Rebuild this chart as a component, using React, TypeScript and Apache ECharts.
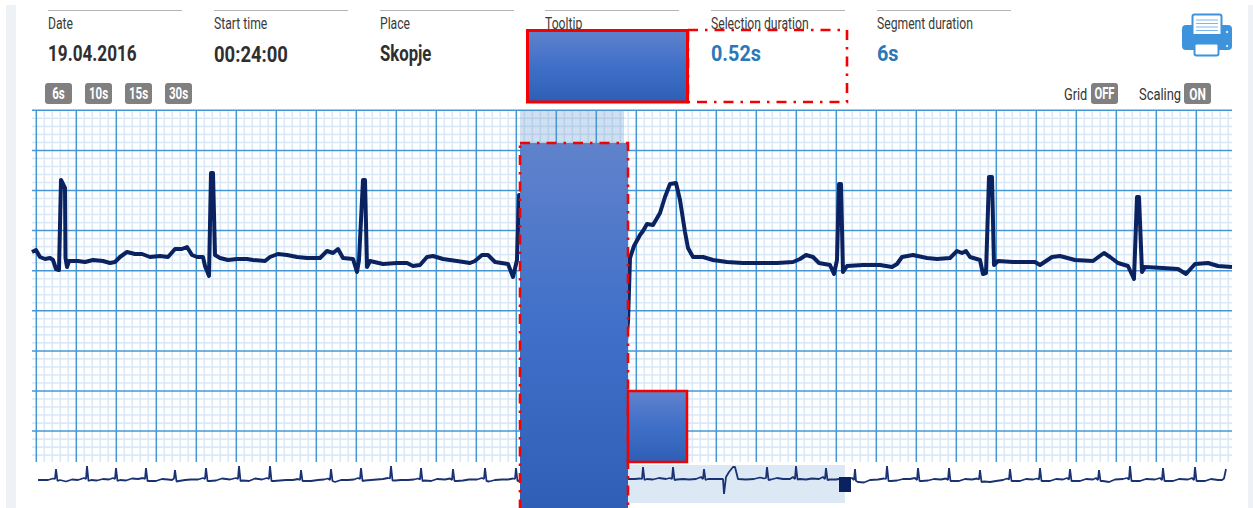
import React, { useEffect, useRef } from "react";
import * as echarts from "echarts";

// Rhythm strip: [sample @200 Hz, ADC counts]
const ecgTrace: [number, number][] = [
  [0,19],[4,21],[8,14],[13,12],[18,13],[21,11],[24,2],[27,1],[29,91],[33,83],[33.5,13],[35,4],[37,10],[46,10],[53,9],[61,11],[71,10],[78,8],[83,9],[88,14],[95,19],[103,17],[110,17],[118,14],[128,15],[136,14],[143,22],[150,22],[155,24],[160,16],[165,14],[171,14],[173,5],[177,-5],[179,98],[181,98],[183,16],[188,13],[196,11],[205,12],[215,12],[221,11],[233,10],[238,14],[246,17],
  [255,16],[265,14],[275,13],[288,13],[295,20],[301,18],[306,22],[311,13],[321,12],[325,-1],[327,11],[331,91],[333,91],[335,4],[338,10],[351,7],[365,8],[375,8],[381,5],[388,6],[395,14],[401,15],[411,12],[425,10],[438,8],[443,10],[450,16],[456,16],[463,9],[476,7],[481,-6],[485,11],[487,76],
  [489,76],[491,9],[494,4],[528,10],[558,8],[578,9],[590,6],[594,-69],[596,-51],
  [598,13],[602,25],[608,36],[611,40],[615,47],[621,46],[628,58],[633,74],[638,87],[644,88],[648,71],[653,39],[656,23],[661,14],[671,14],[681,11],[695,9],[711,8],[728,8],[745,8],[761,9],[768,12],[774,16],[781,14],[787,8],[798,6],[802,-3],[805,11],[807,87],[809,87],[811,-1],[815,5],
  [831,6],[848,6],[860,4],[865,7],[870,14],[881,16],[895,13],[905,12],[918,13],[925,20],[930,18],[934,20],[938,14],[948,11],[951,-3],[954,-2],[957,94],[960,94],[962,6],[966,10],[981,9],[1003,9],[1008,6],[1020,14],[1028,15],[1043,11],[1061,10],[1072,18],[1078,14],[1086,8],[1096,5],[1102,-8],[1105,74],[1107,74],[1110,-1],[1113,4],[1131,3],[1146,2],[1154,-3],[1163,7],[1176,8],[1186,5],[1200,4],
];

// Overview strip: [sample @40 Hz, ADC counts]
const overviewTrace: [number, number][] = [
  [0,0],[10,0],[15,1.5],[17,1],[18,11],[19.5,-1],[22,0],[28,-1.5],[34,0.5],
  [40,0],[46,2],[48,1],[49,14],[50.5,-1],[53,0],[59,-0.5],[65,1],[71,0.5],
  [75,2],[77,1],[78,12],[79.5,-1],[82,0],[88,-0.5],[94,1.5],[100,1],
  [105,2],[107,1],[108,12],[109.5,-1],[112,-1],[118,-1],[124,1],[130,0.5],
  [134,0],[136,1.5],[137,10],[138.5,-1.5],[141,-1],[147,0],[153,0.5],[160,0.5],
  [165,2],[167,1],[168,12],[169.5,-1],[172,-1],[178,-0.5],[184,1.5],[192,0.5],
  [198,2],[200,1],[201,14],[202.5,-1],[205,-0.5],[211,-1],[217,1.5],[224,0.5],
  [229,2],[231,1],[232,14],[233.5,-1],[236,-1],[242,-0.5],[248,0],[255,0],
  [260,1],[262,0],[263,10],[264.5,-1],[267,-1],[273,-1],[280,0],[286,0.5],
  [290,1.5],[292,0],[293,11],[294.5,-1],[297,-2],[303,0],[310,0],[316,0.5],
  [320,2],[322,1],[323,12],[324.5,-1],[327,-0.5],[333,0],[339,0.5],[345,1],
  [350,2],[352,1.5],[353,14],[354.5,-0.5],[357,-0.5],[363,0],[370,0],[376,0.5],
  [380,1.5],[382,0.5],[383,12],[384.5,-1],[387,-0.5],[393,-1],[399,1],[407,0.5],
  [412,1.5],[414,0],[415,11],[416.5,-1],[419,-1],[425,-0.5],[431,0.5],[439,0.5],
  [444,2],[446,1],[447,12],[448.5,-1],[451,-1.5],[457,0],[464,0.5],[470,0.5],
  [475,1.5],[477,1],[478,12],[479.5,-1],[482,-0.5],[488,-0.5],[494,1],[501,0.5],
  [506,1.5],[508,1],[509,12],[510.5,-1],[513,-1],[519,0],[526,0.5],[532,0.5],
  [537,1.5],[539,1],[540,12],[541.5,-1],[544,-1],[550,0],[557,0.5],[564,0.5],
  [569,1.5],[571,1],[572,12],[573.5,-1],[576,-1],[582,0],[589,1],[597,1],
  [602,1.5],[604,1],[605,13],[606.5,0],[609,1],[615,0.5],[621,2],[628,1],
  [632,2],[634,1],[635,13],[636.5,0],[639,0.5],[645,1],[651,0.5],[658,1],
  [663,3],[665,1],[666,11],[667.5,0],[670,1],[676,1],[682,1],[685,1],
  [686,-14],[688,3],[691,8],[695,13],[697,13],[700,1],[708,0.5],[716,1],[722,2.5],[726,1.5],
  [728,2],[729,13],[730.5,0],[733,0.5],[739,2],[745,1],[752,1],
  [755,3],[757,1],[758,14],[759.5,0.5],[762,1],[768,0.5],[774,1.5],[781,1],
  [785,3],[787,1],[788,12],[789.5,0],[792,0.5],[798,0.5],[804,1.5],[811,1],
  [814,2],[816,0],[817,11],[818,-1],[820,-2],[826,-2.5],[832,0],[840,0.5],
  [846,1.5],[848,1],[849,14],[850.5,-1],[853,-1],[859,-0.5],[865,1],[872,1],
  [877,2],[879,0],[880,12],[881.5,-1],[884,-1],[890,-0.5],[896,1],[903,0.5],
  [908,1.5],[910,0],[911,12],[912.5,-1],[915,-1],[921,-1],[927,1],[934,0.5],
  [939,1.5],[941,0.5],[942,10],[943.5,-2],[946,-1.5],[952,-2],[958,-1],[965,0],
  [969,1.5],[971,0.5],[972,11],[973.5,-1],[976,-1],[982,-1],[988,1],[995,0.5],
  [999,1.5],[1001,0.5],[1002,12],[1003.5,-1],[1006,-1],[1012,-1],[1018,1],[1025,0.5],
  [1029,2],[1031,0.5],[1032,11],[1033.5,-1],[1036,-1],[1042,-1],[1048,1],[1055,0.5],
  [1058,2],[1060,0],[1061,10],[1062.5,-1],[1065,-1],[1071,-2],[1077,0.5],[1085,1],
  [1089,2],[1091,0.5],[1092,14],[1093.5,-1],[1096,-1],[1102,-1],[1108,1],[1117,0.5],
  [1122,2],[1124,0],[1125,12],[1126.5,-1],[1129,-1],[1135,-1],[1141,1],[1150,0.5],
  [1154,2],[1156,0],[1157,13],[1158.5,-1],[1161,-1],[1167,-1],[1173,1],[1180,0],
  [1184,0],[1186,1.5],[1188,11],
];

const infoLabels = ["Date", "Start time", "Place", "Tooltip", "Selection duration", "Segment duration"];
const infoValues = ["19.04.2016", "00:24:00", "Skopje", "", "0.52s", "6s"];
const infoLeft = [48, 214, 380, 545, 711, 877];
const spanLabels = ["6s", "10s", "15s", "30s"];

// ECG paper: 1 small box = 8 samples, 1 big box = 40 samples
const SMALL = 8;
const BIG_EVERY = 5;
const paper: [number, number, number][] = [];
for (let i = 0; 4.3 + i * SMALL < 1200; i++) paper.push([0, 4.3 + i * SMALL, i % BIG_EVERY === 0 ? 1 : 0]);
for (let i = 0; 160.7 - i * 8.02 > -191; i++) paper.push([1, 160.7 - i * 8.02, i % BIG_EVERY === 0 ? 1 : 0]);
paper.sort((a, b) => a[2] - b[2]);

const NARROW = "Roboto, 'Liberation Sans', sans-serif";
const RED = "#f40000";
const DASHDOT = [10, 7, 2.5, 7];
const valueScale = [0.78, 0.84, 0.76, 1, 0.9, 0.9];

const blue = () =>
  new echarts.graphic.LinearGradient(0, 0, 0, 1, [
    { offset: 0, color: "#6082cc" },
    { offset: 0.5, color: "#3f6fc8" },
    { offset: 1, color: "#2e5eb4" },
  ]);

const txt = (text: string, x: number, y: number, size: number, fill: string, bold = false, sx = 1, align = "left") => ({
  type: "text",
  x,
  y,
  scaleX: sx,
  z: 10,
  style: { text, fill, font: `${bold ? "bold " : ""}${size}px ${NARROW}`, textAlign: align, textVerticalAlign: "middle" },
});

const box = (x: number, y: number, width: number, height: number, fill: any, stroke?: string, lineWidth = 0, z = 10, r = 0, lineDash?: number[]) => ({
  type: "rect",
  z,
  shape: { x, y, width, height, r },
  style: { fill, stroke, lineWidth, lineDash },
});

function buildGraphics() {
  const g: any[] = [];
  g.push(box(6, 5, 10, 503, "#eef2f7", undefined, 0, 1));
  g.push(box(1248, 5, 5, 503, "#eef2f7", undefined, 0, 1));
  infoLeft.forEach((x, i) => {
    g.push({ type: "line", z: 10, shape: { x1: x, y1: 10.5, x2: x + 134, y2: 10.5 }, style: { stroke: "#b5b5b5", lineWidth: 1 } });
    g.push(txt(infoLabels[i], x, 23, 16, "#3a3a3a", false, 0.76));
    if (infoValues[i]) g.push(txt(infoValues[i], x, 54, 22, i >= 4 ? "#2b78b9" : "#2f2f2f", true, valueScale[i]));
  });
  spanLabels.forEach((s, i) => {
    g.push(box(45 + i * 40, 83, 27, 21, "#808080", undefined, 0, 10, 3));
    g.push(txt(s, 58.5 + i * 40, 94, 17, "#ffffff", true, 0.68, "center"));
  });
  g.push(txt("Grid", 1064, 94, 17, "#333333", false, 0.75));
  g.push(box(1091, 83, 27, 21, "#808080", undefined, 0, 10, 3));
  g.push(txt("OFF", 1104.5, 94, 17, "#ffffff", true, 0.66, "center"));
  g.push(txt("Scaling", 1139, 94, 17, "#333333", false, 0.76));
  g.push(box(1184, 83, 27, 21, "#808080", undefined, 0, 10, 3));
  g.push(txt("ON", 1197.5, 94, 17, "#ffffff", true, 0.7, "center"));

  // printer
  const P = "#3d94dc";
  g.push(box(1182, 25, 50, 25, P, undefined, 0, 10, 4));
  g.push(box(1192.5, 14.5, 29, 24, "#ffffff", P, 2, 11, 2));
  [20, 23.5, 27, 30.5].forEach((y) => g.push({ type: "line", z: 12, shape: { x1: 1196, y1: y, x2: 1218, y2: y }, style: { stroke: "#7db8e8", lineWidth: 1 } }));
  g.push(box(1188, 34, 38, 5, P, undefined, 0, 12));
  g.push(box(1194.5, 43.5, 24, 12, "#ffffff", P, 2, 11, 2));
  g.push({ type: "circle", z: 12, shape: { cx: 1227, cy: 32, r: 1 }, style: { fill: "#ffffff" } });
  g.push({ type: "circle", z: 12, shape: { cx: 1227, cy: 46, r: 1 }, style: { fill: "#ffffff" } });

  // selection shading
  g.push(box(520, 110, 104, 34, "rgba(90,145,200,0.28)", undefined, 0, 50));
  g.push(box(628, 465, 217, 38, "#dde8f5", undefined, 0, 1));
  g.push(box(839, 477, 12, 15, "#0b2260", undefined, 0, 40));

  // masks
  g.push(box(527.5, 30.5, 160, 71.5, blue(), RED, 3, 100));
  g.push(box(688, 30, 159, 72, "transparent", RED, 2.6, 99, 0, DASHDOT));
  g.push(box(520, 143, 108, 380, blue(), RED, 2.6, 100, 0, DASHDOT));
  g.push(box(628, 391, 59, 71, blue(), RED, 2.5, 100));
  return g;
}

export default function App() {
  const ref = useRef<HTMLDivElement>(null);
  useEffect(() => {
    document.body.style.margin = "0";
    document.body.style.overflow = "hidden";
    const chart = echarts.init(ref.current!, undefined, { renderer: "svg" });
    const hiddenAxis = { show: false, type: "value", scale: false };
    chart.setOption({
      animation: false,
      backgroundColor: "#ffffff",
      grid: [
        { left: 32, top: 110, width: 1200, height: 352 },
        { left: 38, top: 460, width: 1188, height: 48 },
      ],
      xAxis: [
        { ...hiddenAxis, gridIndex: 0, min: 0, max: 1200 },
        { ...hiddenAxis, gridIndex: 1, min: 0, max: 1188 },
      ],
      yAxis: [
        { ...hiddenAxis, gridIndex: 0, min: -191, max: 161 },
        { ...hiddenAxis, gridIndex: 1, min: -28, max: 20 },
      ],
      graphic: { elements: buildGraphics() },
      series: [
        {
          type: "custom",
          name: "paper",
          silent: true,
          xAxisIndex: 0,
          yAxisIndex: 0,
          z: 1,
          clip: false,
          data: paper,
          renderItem: (_: any, api: any) => {
            const vertical = api.value(0) === 0;
            const v = api.value(1);
            const major = api.value(2) === 1;
            const a = vertical ? api.coord([v, -191]) : api.coord([0, v]);
            const b = vertical ? api.coord([v, 161]) : api.coord([1200, v]);
            return {
              type: "line",
              shape: { x1: a[0], y1: a[1], x2: b[0], y2: b[1] },
              style: { stroke: major ? "#4397d6" : "#dbe9f6", lineWidth: major ? 1.5 : 1.6 },
            };
          },
        },
        {
          type: "line",
          name: "ECG",
          xAxisIndex: 0,
          yAxisIndex: 0,
          z: 5,
          data: ecgTrace,
          showSymbol: false,
          lineStyle: { color: "#0b2260", width: 4, join: "round" },
        },
        {
          type: "line",
          name: "Overview",
          xAxisIndex: 1,
          yAxisIndex: 1,
          z: 5,
          data: overviewTrace,
          showSymbol: false,
          lineStyle: { color: "#1a3272", width: 1.8 },
        },
      ],
    });
    return () => chart.dispose();
  }, []);
  return <div ref={ref} style={{ width: 1253, height: 508 }} />;
}
